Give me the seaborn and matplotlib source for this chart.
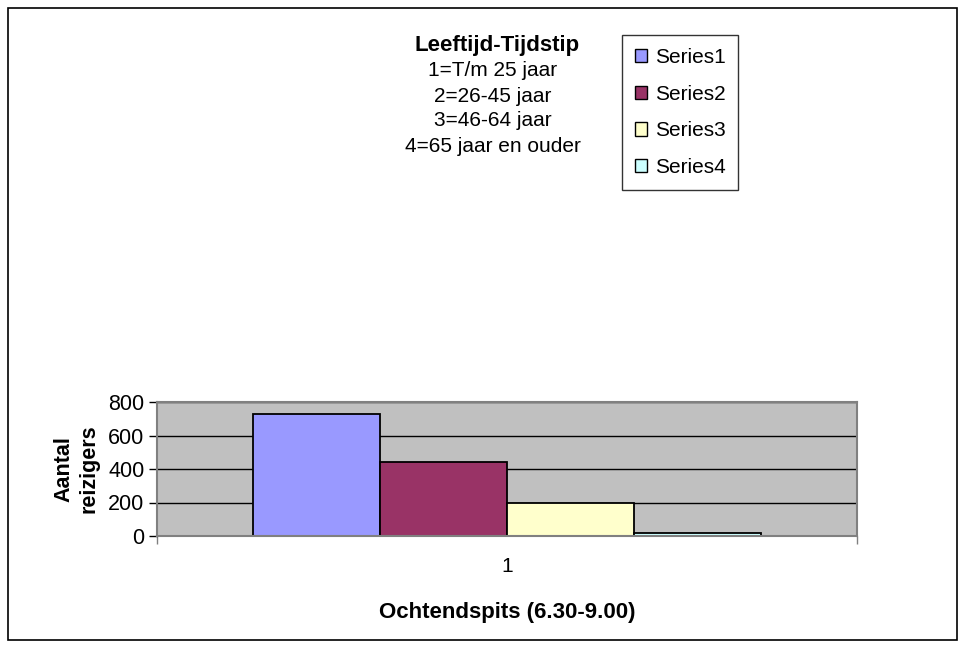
import matplotlib
matplotlib.use("Agg")
import matplotlib.pyplot as plt
import seaborn as sns
import pandas as pd
from matplotlib.patches import Rectangle

# data
categories = ["1"]
series = ["Series1", "Series2", "Series3", "Series4"]
values = [728, 440, 200, 15]
colors = ["#9999FF", "#993366", "#FFFFCC", "#CCFFFF"]

df = pd.DataFrame({"cat": categories * len(series), "series": series, "value": values})

sns.set_theme(style="white")
plt.rcParams['font.family'] = ['Liberation Sans', 'DejaVu Sans']
plt.rcParams['text.color'] = 'black'
plt.rcParams['axes.labelcolor'] = 'black'
plt.rcParams['xtick.color'] = 'black'
plt.rcParams['ytick.color'] = 'black'

fig = plt.figure(figsize=(9.65, 6.48), dpi=100)
ax = fig.add_axes([157 / 965, 1 - 536 / 648, 700 / 965, 134 / 648])

sns.barplot(data=df, x="cat", y="value", hue="series", palette=colors,
            width=0.726, edgecolor="black", linewidth=1.3, ax=ax,
            legend=False, saturation=1)

ax.set_facecolor("#C0C0C0")
ax.set_ylim(0, 800)
ax.set_yticks([0, 200, 400, 600, 800])
ax.set_xlim(-0.5, 0.5)
ax.yaxis.grid(True, color="black", linewidth=1)
ax.set_axisbelow(True)
for s in ["top", "right", "left", "bottom"]:
    ax.spines[s].set_color("#808080")
    ax.spines[s].set_linewidth(1.5)
ax.tick_params(axis="y", direction="out", length=6, width=1, color="black",
               left=True, labelsize=15.5, pad=3)
ax.tick_params(axis="x", bottom=False, labelsize=15, pad=9)
# category boundary ticks
ax.set_xticks([-0.5, 0.5], minor=True)
ax.tick_params(axis="x", which="minor", bottom=True, direction="out", length=6,
               width=1, color="#808080")

ax.set_xlabel("Ochtendspits (6.30-9.00)", fontsize=16, fontweight="bold", labelpad=19)
ax.set_ylabel("Aantal\nreizigers", fontsize=15.5, fontweight="bold", labelpad=6,
              linespacing=1.25)

# title block
fig.text(497 / 965, 1 - 46 / 648, "Leeftijd-Tijdstip", ha="center", va="center",
         fontsize=16, fontweight="bold")
sub = ["1=T/m 25 jaar", "2=26-45 jaar", "3=46-64 jaar", "4=65 jaar en ouder"]
for i, t in enumerate(sub):
    fig.text(493 / 965, 1 - (71 + 25 * i) / 648, t, ha="center", va="center", fontsize=15)

# legend
handles = [Rectangle((0, 0), 1, 1, facecolor=c, edgecolor="black", linewidth=1) for c in colors]
leg = fig.legend(handles, series, loc="upper left", bbox_to_anchor=(622 / 965, 1 - 35 / 648),
                 fontsize=15, frameon=True, fancybox=False, edgecolor="black",
                 handlelength=0.6, handleheight=0.6, handletextpad=0.35,
                 labelspacing=0.85, borderpad=0.62, borderaxespad=0)
leg.get_frame().set_linewidth(1)

# outer chart border
fig.patches.append(Rectangle((8 / 965, 8 / 648), 949 / 965, 632 / 648, transform=fig.transFigure,
                             fill=False, edgecolor="black", linewidth=1.2))

fig.savefig("out.png", dpi=100)
